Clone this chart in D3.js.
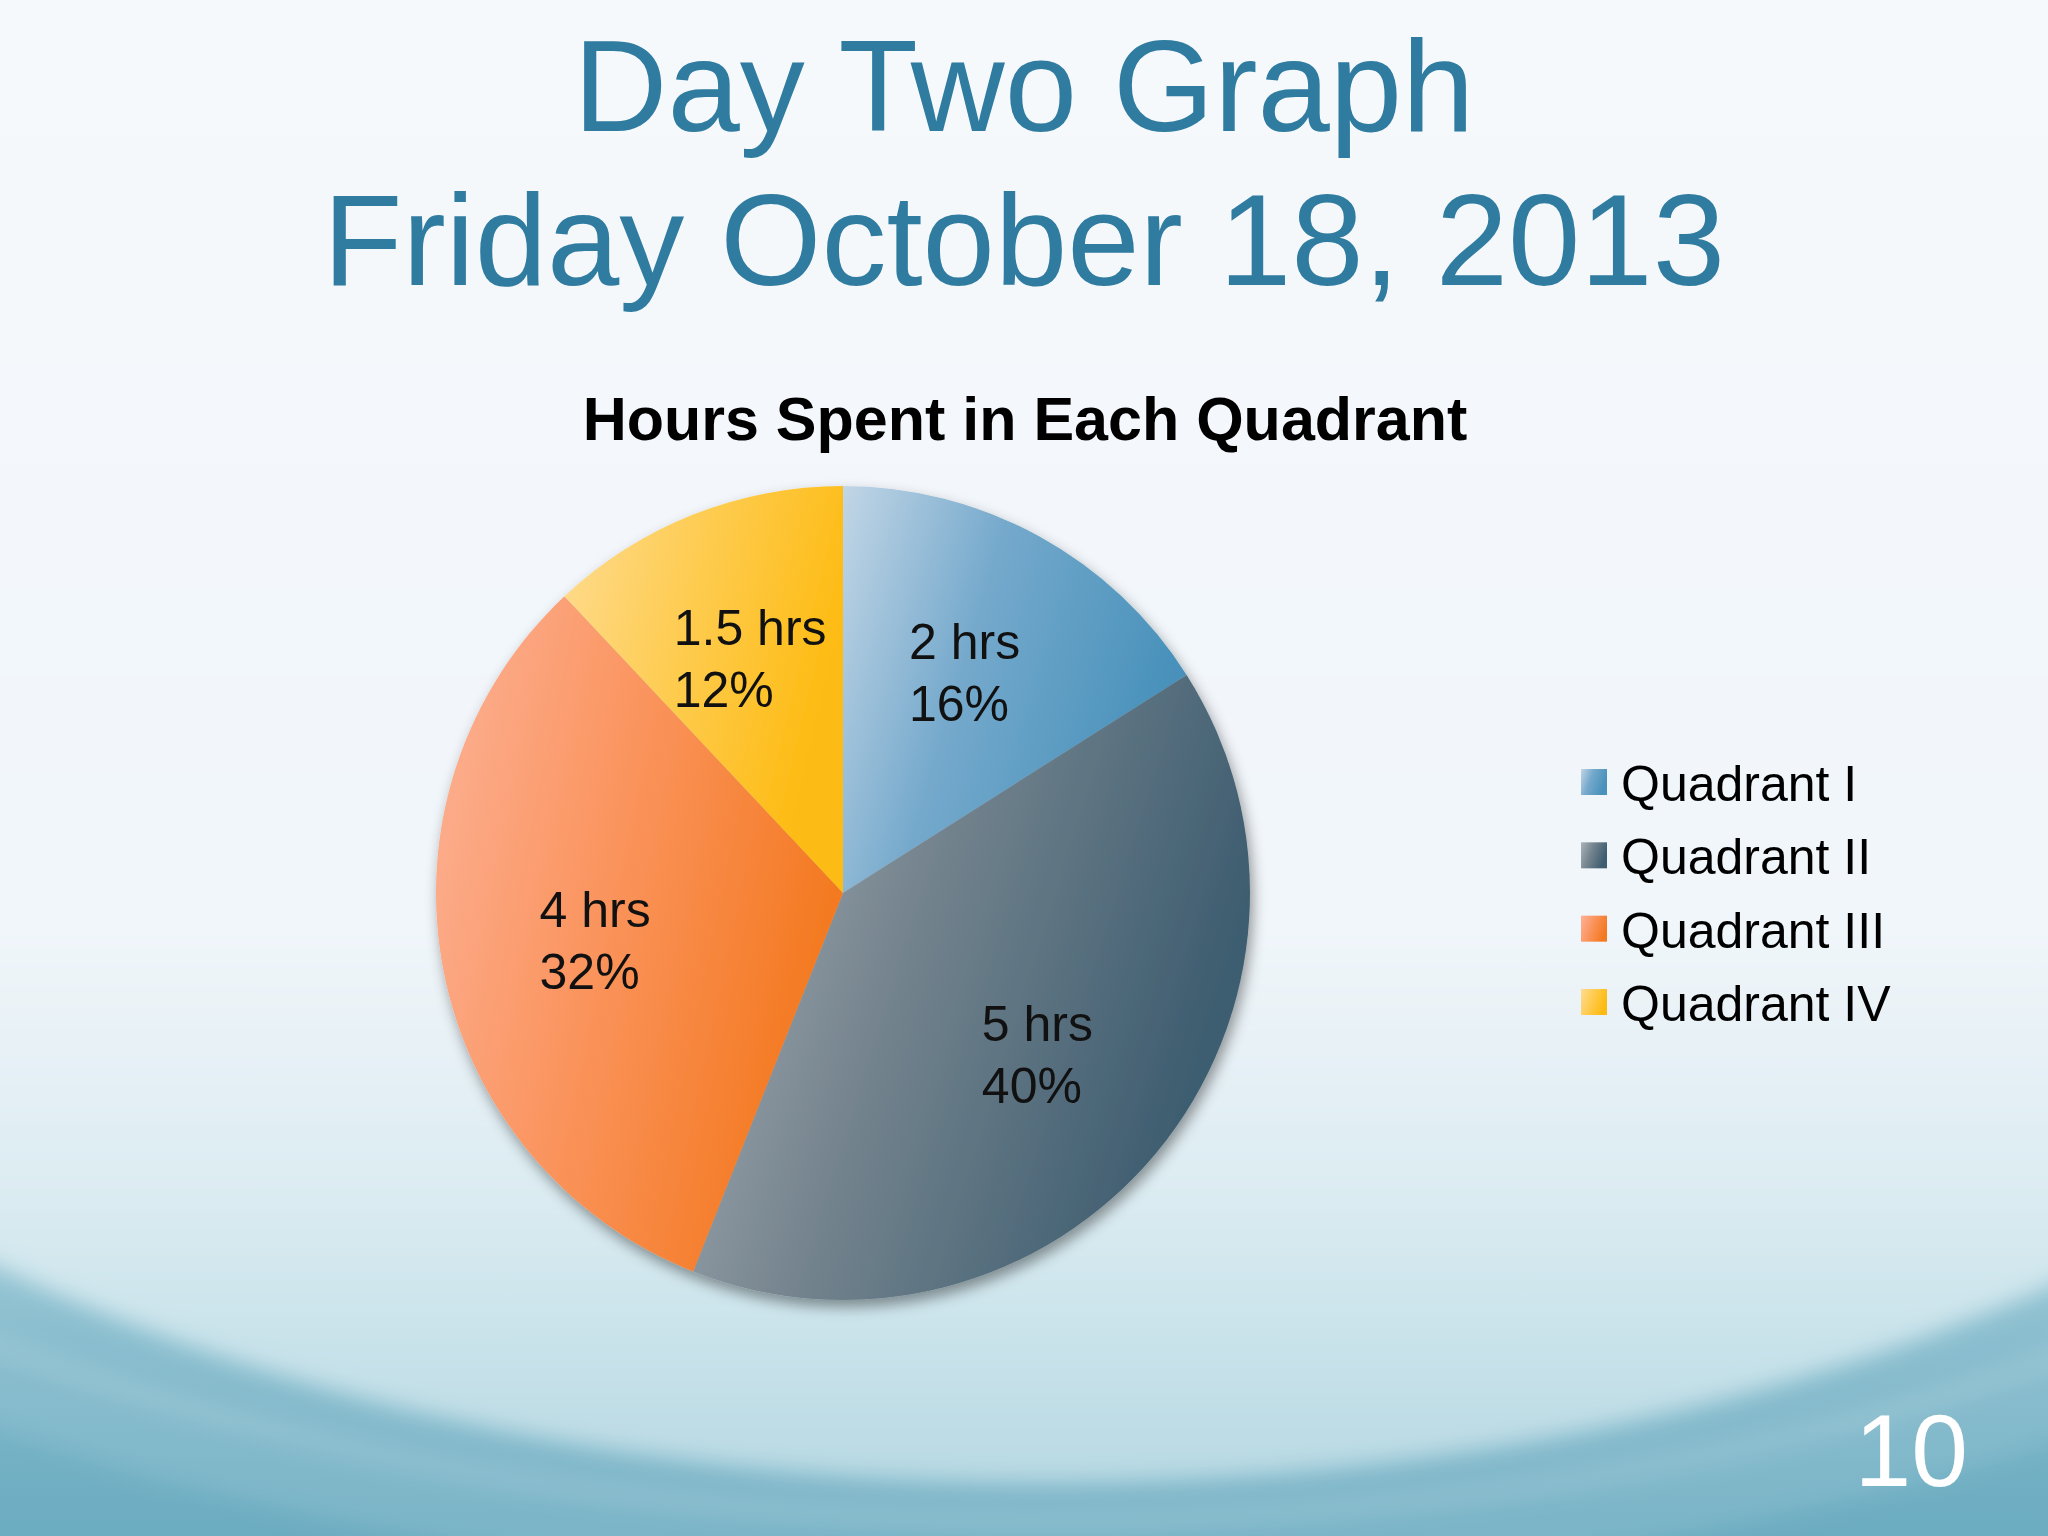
<!DOCTYPE html>
<html>
<head>
<meta charset="utf-8">
<script src="https://cdn.jsdelivr.net/npm/d3@7.9.0/dist/d3.min.js"></script>
<style>
  body { margin: 0; background: #f5f8fb; }
  svg { display: block; }
  text { font-family: 'Liberation Sans', Arial, Helvetica, sans-serif; }
</style>
</head>
<body>
<script>
// chart data
const quadrants = ['Quadrant I', 'Quadrant II', 'Quadrant III', 'Quadrant IV'];
const hours = [2, 5, 4, 1.5];
const titleLines = ['Day Two Graph', 'Friday October 18, 2013'];
const chartTitle = 'Hours Spent in Each Quadrant';
const slideNumber = '10';

// gradient stops (light, mid, dark) for each slice
const sliceColors = [
  ['#c2d6e6', '#75a9cc', '#4891bb'],
  ['#abb3b9', '#76858f', '#3e5d70'],
  ['#fcb297', '#fb9764', '#f47a22'],
  ['#fedc93', '#fecd55', '#fdbb12']
];

const W = 2048, H = 1536;
const svg = d3.select('body').append('svg').attr('width', W).attr('height', H);
const defs = svg.append('defs');

// --- slide background ---
const baseGrad = defs.append('linearGradient')
  .attr('id', 'bg-base').attr('x1', 0).attr('y1', 0).attr('x2', 0).attr('y2', 1);
baseGrad.selectAll('stop')
  .data([[0, '#f5f8fc'], [0.55, '#edf3f8'], [0.74, '#a8d0dc'], [0.86, '#7fb8ca'], [1, '#6cacc1']])
  .join('stop').attr('offset', d => d[0]).attr('stop-color', d => d[1]);

const domeGrad = defs.append('linearGradient')
  .attr('id', 'bg-dome').attr('gradientUnits', 'userSpaceOnUse')
  .attr('x1', 0).attr('y1', 0).attr('x2', 0).attr('y2', 1483);
domeGrad.selectAll('stop')
  .data([[0, '#f6f9fc'], [0.62, '#f1f6fa'], [0.8, '#dcecf2'], [0.92, '#c6e1e9'], [1, '#b8d9e3']])
  .join('stop').attr('offset', d => d[0]).attr('stop-color', d => d[1]);

const soft = defs.append('filter').attr('id', 'soft')
  .attr('filterUnits', 'userSpaceOnUse')
  .attr('x', -200).attr('y', -200).attr('width', W + 400).attr('height', H + 400);
soft.append('feGaussianBlur').attr('stdDeviation', 11);

svg.append('rect').attr('width', W).attr('height', H).attr('fill', 'url(#bg-base)');
const bg = svg.append('g').attr('filter', 'url(#soft)');
bg.append('ellipse')
  .attr('cx', 1045).attr('cy', 730).attr('rx', 1800).attr('ry', 860)
  .attr('fill', '#ffffff').attr('opacity', 0.1);
bg.append('ellipse')
  .attr('cx', 1045).attr('cy', 680).attr('rx', 1720).attr('ry', 840)
  .attr('fill', 'none').attr('stroke', '#ffffff')
  .attr('stroke-width', 14).attr('opacity', 0.16);
bg.append('ellipse')
  .attr('cx', 1045).attr('cy', 594).attr('rx', 1600).attr('ry', 889)
  .attr('fill', 'url(#bg-dome)');

// --- titles ---
svg.append('g').selectAll('text')
  .data(titleLines)
  .join('text')
  .attr('x', 1024)
  .attr('y', (d, i) => 131 + i * 154)
  .attr('text-anchor', 'middle')
  .attr('font-size', 130)
  .attr('fill', '#2f7ca0')
  .text(d => d);

svg.append('text')
  .attr('x', 1025).attr('y', 440)
  .attr('text-anchor', 'middle')
  .attr('font-size', 61)
  .attr('font-weight', 'bold')
  .attr('fill', '#000')
  .text(chartTitle);

// --- pie ---
const cx = 843, cy = 893, radius = 407;
const total = d3.sum(hours);
const pct = d3.format('.0%');

sliceColors.forEach((c, i) => {
  const g = defs.append('linearGradient')
    .attr('id', `slice-grad-${i}`)
    .attr('x1', '0%').attr('y1', '0%').attr('x2', '100%').attr('y2', '35%');
  g.append('stop').attr('offset', 0).attr('stop-color', c[0]);
  g.append('stop').attr('offset', 0.45).attr('stop-color', c[1]);
  g.append('stop').attr('offset', 1).attr('stop-color', c[2]);
});

const shadow = defs.append('filter').attr('id', 'pie-shadow')
  .attr('x', '-10%').attr('y', '-10%').attr('width', '125%').attr('height', '125%');
shadow.append('feDropShadow')
  .attr('dx', 3).attr('dy', 7).attr('stdDeviation', 7)
  .attr('flood-color', '#000').attr('flood-opacity', 0.4);

const arcs = d3.pie().sort(null).value(d => d)(hours);
const arcGen = d3.arc().innerRadius(0).outerRadius(radius);
const labelArc = d3.arc().innerRadius(radius * 0.62).outerRadius(radius * 0.62);

const pieG = svg.append('g').attr('transform', `translate(${cx},${cy})`);
pieG.append('g')
  .attr('filter', 'url(#pie-shadow)')
  .selectAll('path')
  .data(arcs)
  .join('path')
  .attr('d', arcGen)
  .attr('fill', d => `url(#slice-grad-${d.index})`);

// data labels: two left-aligned lines centred on the label point
pieG.append('g').selectAll('text')
  .data(arcs)
  .join('text')
  .attr('font-size', 50)
  .attr('fill', '#111')
  .each(function (d) {
    const t = d3.select(this);
    t.append('tspan').attr('x', 0).attr('y', 0).text(`${hours[d.index]} hrs`);
    t.append('tspan').attr('x', 0).attr('y', 62).text(pct(d.value / total));
    const w = this.getBBox().width;
    const [lx, ly] = labelArc.centroid(d);
    t.attr('transform', `translate(${lx - w / 2},${ly - 13})`);
  });

// --- legend ---
const legendY = d3.scalePoint().domain(quadrants).range([801, 1021]);
const legend = svg.append('g').selectAll('g')
  .data(quadrants)
  .join('g')
  .attr('transform', d => `translate(1581,${legendY(d)})`);

legend.append('rect')
  .attr('x', 0).attr('y', -32)
  .attr('width', 26).attr('height', 26)
  .attr('fill', (d, i) => `url(#slice-grad-${i})`);

legend.append('text')
  .attr('x', 40).attr('y', 0)
  .attr('font-size', 50)
  .attr('fill', '#000')
  .text(d => d);

// --- slide number ---
svg.append('text')
  .attr('x', 1968).attr('y', 1486)
  .attr('text-anchor', 'end')
  .attr('font-size', 102)
  .attr('fill', '#ffffff')
  .text(slideNumber);
</script>
</body>
</html>
